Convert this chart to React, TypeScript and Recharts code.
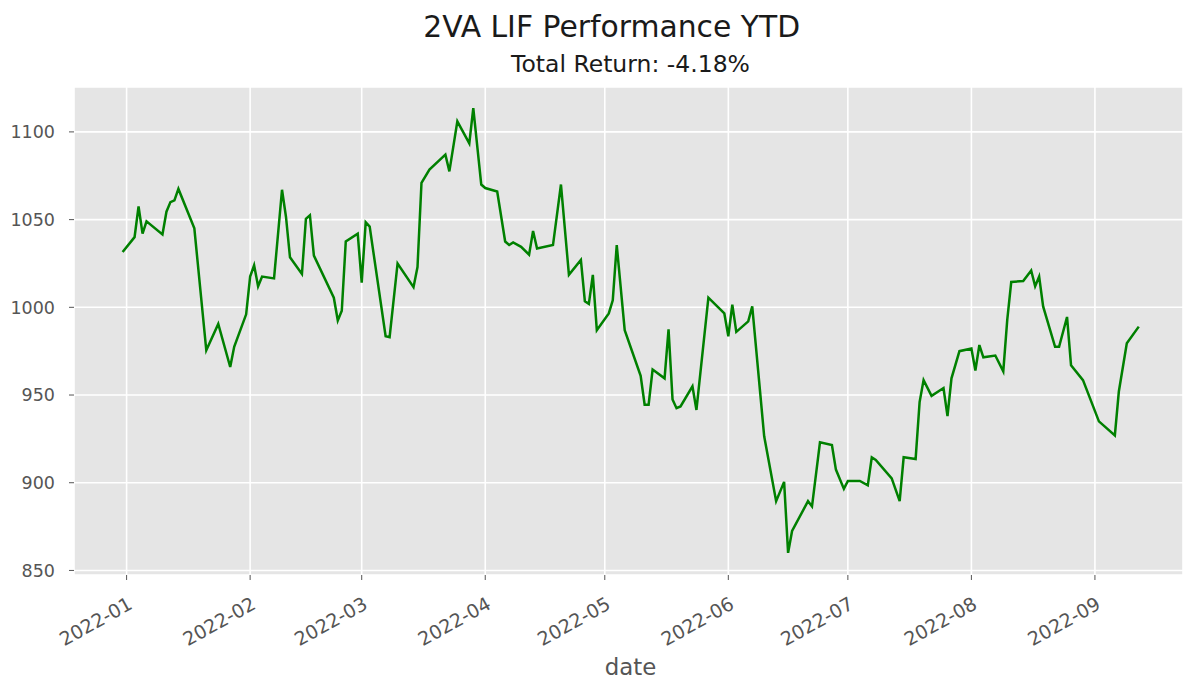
import React from 'react';
import { LineChart, Line, XAxis, YAxis, CartesianGrid } from 'recharts';

const title = '2VA LIF Performance YTD';
const subtitle = 'Total Return: -4.18%';
const xAxisLabel = 'date';

const dates = [
  '2021-12-31', '2022-01-03', '2022-01-04', '2022-01-05', '2022-01-06', '2022-01-10', '2022-01-11', '2022-01-12',
  '2022-01-13', '2022-01-14', '2022-01-18', '2022-01-21', '2022-01-24', '2022-01-27', '2022-01-28', '2022-01-31',
  '2022-02-01', '2022-02-02', '2022-02-03', '2022-02-04', '2022-02-07', '2022-02-09', '2022-02-10', '2022-02-11',
  '2022-02-14', '2022-02-15', '2022-02-16', '2022-02-17', '2022-02-22', '2022-02-23', '2022-02-24', '2022-02-25',
  '2022-02-28', '2022-03-01', '2022-03-02', '2022-03-03', '2022-03-07', '2022-03-08', '2022-03-10', '2022-03-14',
  '2022-03-15', '2022-03-16', '2022-03-18', '2022-03-22', '2022-03-23', '2022-03-25', '2022-03-28', '2022-03-29',
  '2022-03-31', '2022-04-01', '2022-04-04', '2022-04-06', '2022-04-07', '2022-04-08', '2022-04-10', '2022-04-12',
  '2022-04-13', '2022-04-14', '2022-04-18', '2022-04-20', '2022-04-22', '2022-04-25', '2022-04-26', '2022-04-27',
  '2022-04-28', '2022-04-29', '2022-05-02', '2022-05-03', '2022-05-04', '2022-05-06', '2022-05-10', '2022-05-11',
  '2022-05-12', '2022-05-13', '2022-05-16', '2022-05-17', '2022-05-18', '2022-05-19', '2022-05-20', '2022-05-23',
  '2022-05-24', '2022-05-27', '2022-05-31', '2022-06-01', '2022-06-02', '2022-06-03', '2022-06-06', '2022-06-07',
  '2022-06-10', '2022-06-13', '2022-06-15', '2022-06-16', '2022-06-17', '2022-06-21', '2022-06-22', '2022-06-24',
  '2022-06-27', '2022-06-28', '2022-06-30', '2022-07-01', '2022-07-04', '2022-07-06', '2022-07-07', '2022-07-08',
  '2022-07-12', '2022-07-14', '2022-07-15', '2022-07-18', '2022-07-19', '2022-07-20', '2022-07-22', '2022-07-25',
  '2022-07-26', '2022-07-27', '2022-07-29', '2022-08-01', '2022-08-02', '2022-08-03', '2022-08-04', '2022-08-07',
  '2022-08-09', '2022-08-10', '2022-08-11', '2022-08-14', '2022-08-16', '2022-08-17', '2022-08-18', '2022-08-19',
  '2022-08-22', '2022-08-23', '2022-08-25', '2022-08-26', '2022-08-29', '2022-09-02', '2022-09-06', '2022-09-07',
  '2022-09-09', '2022-09-12',
];

const values = [
  1031.5, 1040, 1057.5, 1042, 1049, 1041.5, 1054.5, 1060,
  1061, 1067.5, 1045, 975.5, 990.5, 966, 977.5, 996,
  1017.5, 1024, 1012, 1017.5, 1016.5, 1067, 1051.5, 1028.5,
  1019, 1050.5, 1052.5, 1029.5, 1005.5, 992.5, 998, 1037.5,
  1042, 1014, 1048.5, 1046, 983.5, 983, 1025, 1011.5,
  1023, 1071, 1078.5, 1087, 1077.5, 1106, 1093.5, 1113.5,
  1070, 1068, 1066, 1037.5, 1035.5, 1037, 1034.5, 1030,
  1043.5, 1033.5, 1035.5, 1070, 1018.5, 1027, 1003.5, 1002,
  1018.5, 987, 996.5, 1004, 1035.5, 987, 961, 944.5,
  944.5, 964.5, 959.5, 987.5, 947.5, 942.5, 943.5, 955,
  941.5, 1005.5, 996.5, 983.5, 1001.5, 986, 992, 1000.5,
  926.5, 889.5, 900.5, 860, 872.5, 889.5, 886.5, 923,
  921.5, 907.5, 896.5, 901, 901, 898.5, 914.5, 913,
  902.5, 889.5, 914.5, 913.5, 946, 958.5, 949.5, 954,
  938, 959.5, 975, 976.5, 964, 978.5, 971.5, 972.5,
  963.5, 993, 1014.5, 1015, 1021, 1012, 1017.5, 1000.5,
  977.5, 977.5, 994.5, 967, 958.5, 935, 927, 952,
  979.5, 989,
];

const xTickLabels = ['2022-01', '2022-02', '2022-03', '2022-04', '2022-05', '2022-06', '2022-07', '2022-08', '2022-09'];
const yTicks = [850, 900, 950, 1000, 1050, 1100];

const dayIndex = (s: string) => {
  const [y, m, d] = s.split('-').map(Number);
  return (Date.UTC(y, m - 1, d || 1) - Date.UTC(2022, 0, 1)) / 86400000;
};

const data = dates.map((d, i) => ({ day: dayIndex(d), value: values[i] }));
const xTicks = xTickLabels.map((l) => dayIndex(l + '-01'));
const labelFor: Record<number, string> = {};
xTickLabels.forEach((l, i) => { labelFor[xTicks[i]] = l; });

const FONT = '"DejaVu Sans", sans-serif';
const TICK_COLOR = '#555555';

const XTick = (props: any) => {
  const { x, y, payload } = props;
  return (
    <g transform={`translate(${x},${y})`}>
      <text
        x={0}
        y={0}
        transform="translate(7,26) rotate(-29)"
        textAnchor="end"
        fontFamily={FONT}
        fontSize={19}
        fill={TICK_COLOR}
      >
        {labelFor[payload.value]}
      </text>
    </g>
  );
};

export default function App() {
  const W = 1183;
  const H = 681;
  return (
    <div style={{ position: 'absolute', left: 0, top: 0, width: W, height: H, background: '#ffffff' }}>
      <LineChart width={W} height={H} data={data} margin={{ top: 87, right: 0, bottom: 0, left: 0 }}>
        <CartesianGrid fill="#E5E5E5" stroke="#ffffff" strokeWidth={1.6} strokeDasharray="" />
        <XAxis
          type="number"
          dataKey="day"
          domain={[-13.2, 265.1]}
          ticks={xTicks}
          allowDataOverflow
          height={106}
          axisLine={false}
          tickLine={{ stroke: TICK_COLOR, strokeWidth: 1 }}
          tickSize={5}
          tickMargin={2}
          tick={<XTick />}
          interval={0}
        />
        <YAxis
          type="number"
          domain={[847.4, 1125.6]}
          ticks={yTicks}
          allowDataOverflow
          width={74}
          axisLine={false}
          tickLine={{ stroke: TICK_COLOR, strokeWidth: 1 }}
          tickSize={5}
          tickMargin={14}
          tick={{ fill: TICK_COLOR, fontFamily: FONT, fontSize: 17.5 }}
          interval={0}
        />
        <Line
          type="linear"
          dataKey="value"
          stroke="#008000"
          strokeWidth={2.5}
          dot={false}
          isAnimationActive={false}
        />
      </LineChart>
      <svg
        width={W}
        height={H}
        style={{ position: 'absolute', left: 0, top: 0, pointerEvents: 'none' }}
      >
        <text x={611.7} y={37} textAnchor="middle" fontFamily={FONT} fontSize={29.8} fill="#1a1a1a">
          {title}
        </text>
        <text x={630.5} y={72} textAnchor="middle" fontFamily={FONT} fontSize={23.5} fill="#1a1a1a">
          {subtitle}
        </text>
        <text x={630.5} y={675} textAnchor="middle" fontFamily={FONT} fontSize={22.9} fill={TICK_COLOR}>
          {xAxisLabel}
        </text>
      </svg>
    </div>
  );
}
